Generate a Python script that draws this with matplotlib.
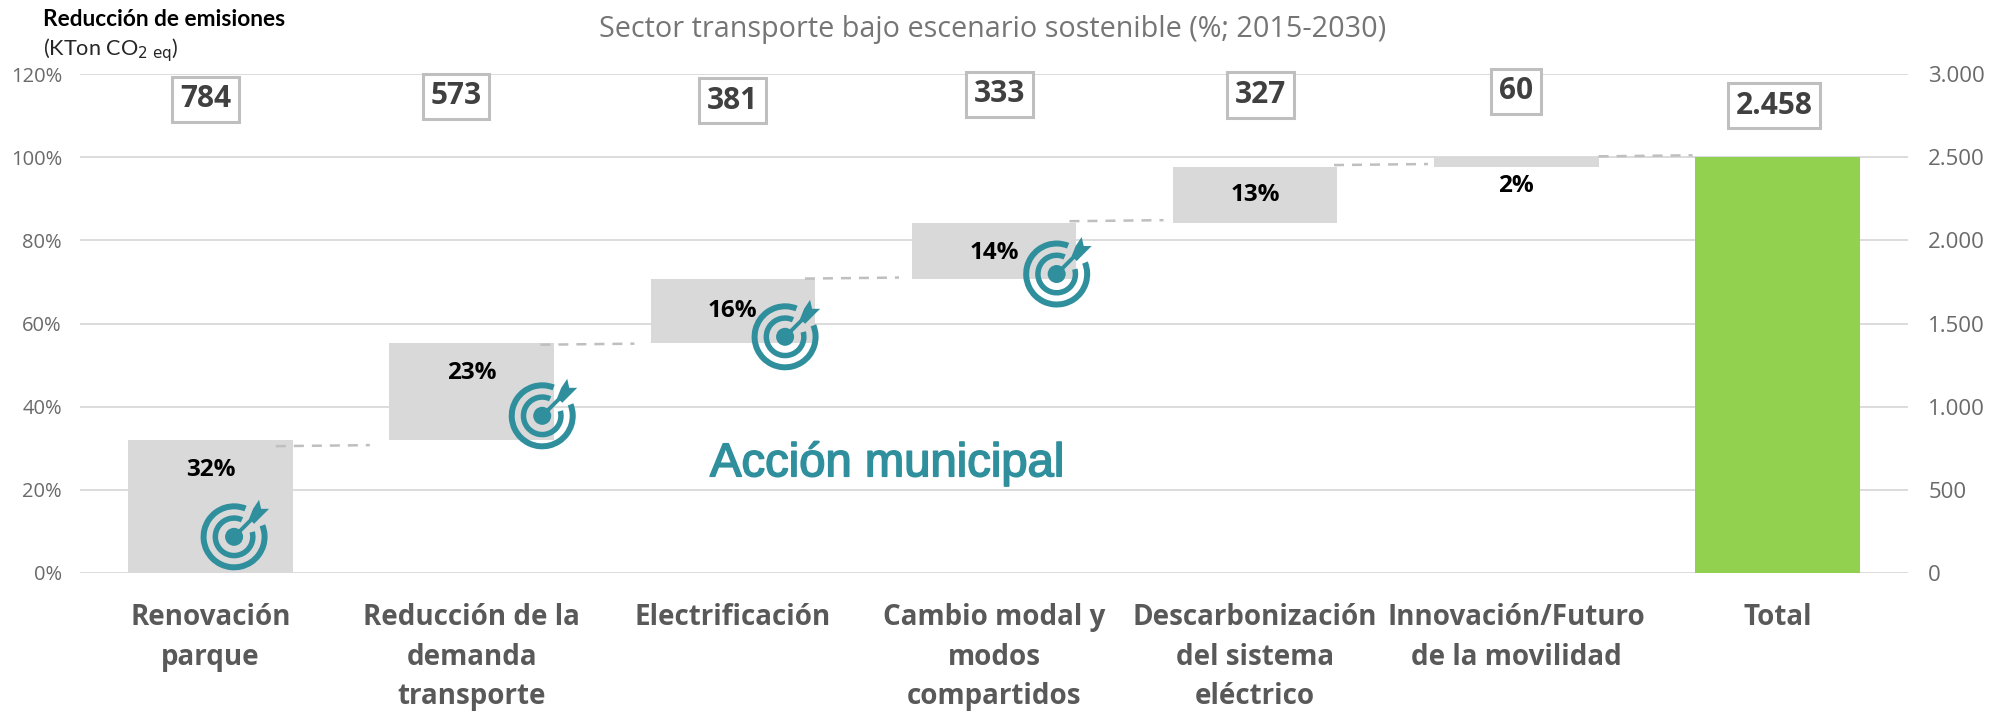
import matplotlib
matplotlib.use("Agg")
import matplotlib.pyplot as plt
import matplotlib.patheffects as pe
from matplotlib.patches import Circle, Polygon, Wedge

categories = ["Renovación\nparque", "Reducción de la\ndemanda\ntransporte", "Electrificación",
              "Cambio modal y\nmodos\ncompartidos", "Descarbonización\ndel sistema\neléctrico",
              "Innovación/Futuro\nde la movilidad", "Total"]
pct_labels = ["32%", "23%", "16%", "14%", "13%", "2%"]
bases = [0, 31.9, 55.2, 70.7, 84.2, 97.6, 0]
heights = [31.9, 23.3, 15.5, 13.5, 13.4, 2.4, 100]
kton = ["784", "573", "381", "333", "327", "60", "2.458"]
kton_y = [113.9, 114.6, 113.6, 115.1, 115.0, 115.8, 112.4]
kton_dx = [-0.02, -0.06, 0, 0.02, 0.02, 0, -0.014]
pct_y = [24.8, 48, 63, 77, 91, 93]
left_ticks = [0, 20, 40, 60, 80, 100, 120]
right_ticks = [0, 500, 1000, 1500, 2000, 2500, 3000]
right_labels = ["0", "500", "1.000", "1.500", "2.000", "2.500", "3.000"]
connector_y = [30.5, 54.9, 70.8, 84.6, 98.1, 100.2]
icon_cats = [0.09, 1.27, 2.2, 3.24]
icon_y = [8.7, 37.8, 56.8, 71.9]

W, H = 2000, 713
GRID, TXT, TEAL = "#dcdcdc", "#595959", "#2f8f9d"
fig = plt.figure(figsize=(W / 100, H / 100), dpi=100)
L, R, T, B = 80, 1908, 74, 573
ax = fig.add_axes([L / W, 1 - B / H, (R - L) / W, (B - T) / H])
ax.set_xlim(-0.5, 6.5)
ax.set_ylim(0, 120)
ax.set_axisbelow(True)
ax.yaxis.grid(True, color=GRID, lw=1.4)
for s in ax.spines.values():
    s.set_visible(False)
ax.tick_params(length=0)
F = "Open Sans"
ax.set_yticks(left_ticks, [f"{v}%" for v in left_ticks], fontsize=14.5, color="#6a6a6a", family=F)
ax.tick_params(axis="y", pad=13)
ax.set_xticks(range(7), [""] * 7)

colors = ["#d9d9d9"] * 6 + ["#92d050"]
ax.bar(range(7), heights, bottom=bases, width=0.63, color=colors, lw=0, zorder=2)

for i, y in enumerate(connector_y):
    x0 = i + 0.25 + 0.013 * i
    ax.plot([x0, x0 + 0.36], [y, y + 0.25], color="#bfbfbf", lw=1.8, ls=(0, (4, 3.2)), zorder=3)

for i, c in enumerate(categories):
    ax.annotate(c, (i, 0), xytext=(0, -21.5), textcoords="offset points", ha="center", va="top",
                fontsize=20, fontweight="bold", color=TXT, family=F, linespacing=1.49)

for i, (t, y) in enumerate(zip(pct_labels, pct_y)):
    ax.text(i, y, t, ha="center", va="center", fontsize=17.5, fontweight="bold",
            color="black", family=F, zorder=4)

for i, (t, y) in enumerate(zip(kton, kton_y)):
    ax.text(i + kton_dx[i], y, t, ha="center", va="center", fontsize=21.5, fontweight="bold", color="#404040",
            family=F, zorder=6,
            bbox=dict(boxstyle="square,pad=0.26", fc="white", ec="#bfbfbf", lw=2.2))

ax2 = ax.twinx()
ax2.set_ylim(0, 3000)
ax2.set_yticks(right_ticks, right_labels, fontsize=16, color="#6a6a6a", family=F)
ax2.tick_params(length=0, pad=14.5)
for s in ax2.spines.values():
    s.set_visible(False)

# icon overlay in pixel units
ov = fig.add_axes([0, 0, 1, 1], facecolor="none")
ov.set_xlim(0, W)
ov.set_ylim(H, 0)
ov.axis("off")


def target(cx, cy):
    ov.add_patch(Wedge((cx, cy), 33.5, -22, 292, width=6, fc=TEAL, lw=0))
    ov.add_patch(Wedge((cx, cy), 21.5, -15, 295, width=5.5, fc=TEAL, lw=0))
    ov.add_patch(Circle((cx, cy), 9, fc=TEAL, lw=0))
    ov.plot([cx, cx + 24], [cy, cy - 24], color=TEAL, lw=2.8, solid_capstyle="butt")
    barbs = [(15, -18), (19, -28), (25, -37), (27, -28), (35, -28), (27, -20), (20, -13)]
    ov.add_patch(Polygon([(cx + a, cy + b) for a, b in barbs], fc=TEAL, lw=0))


for c, y in zip(icon_cats, icon_y):
    px = ax.transData.transform((c, y))
    target(px[0], H - px[1])

fig.text(993 / W, 1 - 29 / H, "Sector transporte bajo escenario sostenible (%; 2015-2030)", ha="center", va="center",
         fontsize=20.7, color="#757575", family=F)
fig.text(43 / W, 1 - 20 / H, "Reducción de emisiones", ha="left", va="center", fontsize=16.3, fontweight="bold",
         color="black", family="Lato")
fig.text(43 / W, 1 - 50 / H, r"(KTon CO$_{2\ \mathrm{eq}}$)", ha="left", va="center", fontsize=15.6,
         color="#262626", family="Lato", math_fontfamily="dejavusans")
t = fig.text(887 / W, 1 - 464 / H, "Acción municipal", ha="center", va="center", fontsize=34, color=TEAL,
             family="Liberation Sans")
t.set_path_effects([pe.withStroke(linewidth=1.2, foreground=TEAL)])

fig.savefig("out.png", dpi=100, facecolor="white")
